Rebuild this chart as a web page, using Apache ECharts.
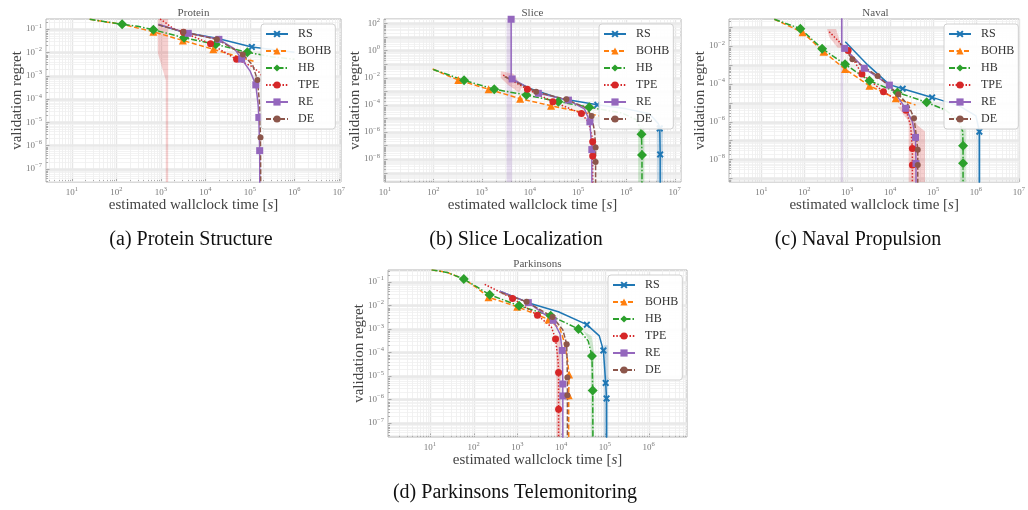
<!DOCTYPE html>
<html><head><meta charset="utf-8">
<script src="https://cdn.jsdelivr.net/npm/echarts@6/dist/echarts.min.js"></script>
<style>html,body{margin:0;padding:0;background:#fff}#c{width:1028px;height:510px}</style>
</head><body><div id="c"></div><script>
// ---------------- DATA ----------------
const METHODS = ['RS','BOHB','HB','TPE','RE','DE'];
const PANEL_TITLES = ['Protein','Slice','Naval','Parkinsons'];
const CAPTIONS = ['(a) Protein Structure','(b) Slice Localization','(c) Naval Propulsion','(d) Parkinsons Telemonitoring'];
const X_NAME = 'estimated wallclock time [{i|s}]';
const Y_NAME = 'validation regret';

const X_TICKS_A = [1e1,1e2,1e3,1e4,1e5,1e6,1e7];
const X_TICKS_B = [1e1,1e2,1e3,1e4,1e5,1e6,1e7];
const X_TICKS_C = [1e1,1e2,1e3,1e4,1e5,1e6,1e7];
const X_TICKS_D = [1e1,1e2,1e3,1e4,1e5,1e6];
const Y_TICKS_A = [1e-1,1e-2,1e-3,1e-4,1e-5,1e-6,1e-7];
const Y_TICKS_B = [1e2,1e0,1e-2,1e-4,1e-6,1e-8];
const Y_TICKS_C = [1e-2,1e-4,1e-6,1e-8];
const Y_TICKS_D = [1e-1,1e-2,1e-3,1e-4,1e-5,1e-6,1e-7];

// points: [wallclock time s, regret, marker flag]
const PROTEIN_RS   = [[900,0.15],[3000,0.075],[18000,0.04],[1.1e5,0.017,1],[1e6,0.01]];
const PROTEIN_BOHB = [[25,0.26],[60,0.2],[134,0.16],[300,0.11],[675,0.076,1],[3100,0.032,1],[15000,0.0135,1],[1.2e5,0.0041]];
const PROTEIN_HB   = [[25,0.26],[60,0.2],[134,0.16,1],[300,0.13],[675,0.093,1],[3300,0.042,1],[17000,0.022,1],[87000,0.01,1],[3e5,0.0065],[1e6,0.005]];
const PROTEIN_TPE  = [[950,0.27],[1300,0.18],[1800,0.11],[3200,0.072,1],[13000,0.023,1],[50000,0.005,1],[1.1e5,0.0025],[1.6e5,0.0014],[1.8e5,0.001]];
const PROTEIN_RE   = [[870,0.16],[4100,0.065,1],[20000,0.036,1],[45000,0.014],[65000,0.0051,1],[1e5,0.0016],[1.35e5,4e-4,1],[1.52e5,6e-5],[1.58e5,1.6e-5,1],[1.65e5,6e-7,1],[1.67e5,1e-9]];
const PROTEIN_DE   = [[870,0.15],[3200,0.075,1],[18000,0.036,1],[69000,0.0081,1],[1.15e5,0.0028],[1.47e5,6.5e-4,1],[1.66e5,5e-5],[1.72e5,2.2e-6,1],[1.76e5,1e-9]];

const SLICE_RS   = [[3600,0.01],[1e4,1.6e-3],[4e4,3e-4],[2.5e5,1e-4,1],[1e6,5e-5],[3e6,2.2e-5],[4.6e6,4e-6],[4.9e6,1.8e-6,1],[5e6,2.2e-8,1],[5e6,1e-11]];
const SLICE_BOHB = [[97,0.043],[330,0.0066,1],[1400,0.0014,1],[6300,2.8e-4,1],[27500,8.5e-5,1],[2.8e5,1.5e-5]];
const SLICE_HB   = [[100,0.04],[435,0.0063,1],[1830,0.0014,1],[8500,5.2e-4,1],[39000,1.7e-4,1],[1.7e5,6.5e-5,1],[8e5,2.5e-5],[1.6e6,8e-6],[1.95e6,1.8e-6],[2.05e6,6.6e-7,1],[2.1e6,2e-8,1],[2.1e6,1e-11]];
const SLICE_TPE  = [[2800,0.0155],[4000,0.007],[8900,1.4e-3,1],[30000,1.7e-4,1],[1.17e5,2.3e-5,1],[1.65e5,5e-6],[1.95e5,4e-7],[2e5,1.9e-7,1],[2e5,1.7e-8,1],[2e5,1e-11]];
const SLICE_RE   = [[4100,200,1],[4100,0.012],[4300,0.008,1],[15000,7e-4,1],[63000,2.2e-4,1],[1.35e5,5e-5],[1.75e5,5.6e-6,1],[1.92e5,5e-8,1],[1.93e5,1e-11]];
const SLICE_DE   = [[3000,0.012],[13500,9e-4,1],[57000,2.5e-4,1],[1.45e5,6e-5],[1.9e5,1.5e-5,1],[2.2e5,1e-6],[2.3e5,7e-8,1],[2.3e5,6e-9,1],[2.3e5,1e-11]];

const NAVAL_RS   = [[900,0.017],[3000,1e-3],[9600,9e-5],[19600,5.5e-5,1],[95000,1.9e-5,1],[4e5,7e-6],[1e6,2e-6],[1.2e6,2.9e-7,1],[1.2e6,1e-11]];
const NAVAL_BOHB = [[20,0.26],[91,0.053,1],[280,5e-3,1],[890,6e-4,1],[3300,7.9e-5,1],[13500,1.7e-5,1],[39000,7.6e-6]];
const NAVAL_HB   = [[20,0.26],[81,0.083,1],[260,7.2e-3,1],[890,1.07e-3,1],[3300,1.45e-4,1],[14800,3.5e-5,1],[71000,1.04e-5,1],[2e5,4e-6],[4e5,1e-6],[4.9e5,3e-7],[5e5,5.2e-8,1],[5e5,6.2e-9,1],[5e5,1e-11]];
const NAVAL_TPE  = [[380,0.057],[600,0.02],[1050,5.7e-3,1],[2200,3.3e-4,1],[7000,3.8e-5,1],[15000,1.3e-5],[23500,4e-6,1],[30000,6e-7],[33000,3.8e-8,1],[33000,5e-9,1],[33000,1e-11]];
const NAVAL_RE   = [[745,5],[745,0.012],[870,7.5e-3,1],[2500,6.6e-4,1],[9600,8.5e-5,1],[23000,5e-6,1],[33000,1e-6],[39000,1.45e-7,1],[40000,6e-9,1],[40000,1e-11]];
const NAVAL_DE   = [[680,0.014],[1320,2e-3,1],[5100,2.6e-4,1],[15500,2.8e-5,1],[27000,7e-6],[36000,1.5e-6,1],[42000,1e-7],[44000,3.2e-8,1],[44000,5e-9,1],[44000,1e-11]];

const PARK_RS   = [[400,0.04],[2000,0.012],[8700,5.3e-3],[39000,1.5e-3,1],[75000,5e-4],[93000,1.2e-4,1],[1.05e5,5e-6,1],[1.1e5,1.1e-6,1],[1.1e5,1e-9]];
const PARK_BOHB = [[11,0.32],[25,0.25],[60,0.13],[120,0.055],[220,0.022,1],[1000,8.7e-3,1],[5200,2.5e-3,1],[9500,1e-3],[11500,3.3e-4],[14000,5e-5],[15300,1.15e-5,1],[15000,1.5e-6,1],[15000,1e-9]];
const PARK_HB   = [[11,0.32],[25,0.25],[60,0.13,1],[120,0.06],[234,0.028,1],[1100,9.5e-3,1],[5800,3.6e-3,1],[25000,9.8e-4,1],[42000,3e-4],[51000,6.9e-5,1],[53000,2.4e-6,1],[54000,1e-9]];
const PARK_TPE  = [[180,0.078],[780,0.0196,1],[2900,3.8e-3,1],[6000,1.2e-3],[7500,3.7e-4,1],[8600,4e-5],[8800,1.4e-5,1],[8800,3.8e-7,1],[8800,1e-9]];
const PARK_RE   = [[400,0.04],[1790,0.013,1],[6600,2.3e-3,1],[9500,6e-4],[10700,1.2e-4,1],[11000,4.5e-6,1],[11000,1.4e-6,1],[11000,1e-9]];
const PARK_DE   = [[420,0.035],[1630,0.014,1],[6400,3.2e-3,1],[11000,9e-4],[13500,2.2e-4,1],[14000,8.5e-6,1],[14000,1.5e-6,1],[14000,1e-9]];

// shaded spread regions (polygon outlines in data units)
const PROTEIN_TPE_BAND = [[850,0.3],[850,0.009],[1280,6.5e-4],[1280,1e-9],[1450,1e-9],[1450,0.3]];
const SLICE_RE_BAND  = [[3300,1e3],[4300,1e3],[4300,1e-11],[3300,1e-11]];
const SLICE_TPE_BAND = [[2500,0.03],[4500,0.02],[7000,2e-3],[6000,8e-4],[3500,3e-3],[2500,0.01]];
const SLICE_HB_BAND  = [[1.75e6,3e-6],[2.35e6,3e-6],[2.35e6,1e-11],[1.75e6,1e-11]];
const SLICE_RS_BAND  = [[4.3e6,3e-6],[5.7e6,3e-6],[5.7e6,1e-11],[4.3e6,1e-11]];
const NAVAL_RE_BAND  = [[700,1],[800,1],[800,1e-11],[700,1e-11]];
const NAVAL_TPE_BAND = [[18000,6e-6],[30000,2e-6],[45000,6e-7],[65000,3e-7],[65000,1e-11],[27000,1e-11],[27000,1e-6],[15000,6e-6]];
const NAVAL_TPE_BAND2 = [[340,0.08],[550,0.08],[750,0.008],[600,0.008],[380,0.03]];
const NAVAL_HB_BAND  = [[4.3e5,6e-7],[5.8e5,6e-7],[5.8e5,1e-11],[4.3e5,1e-11]];
const NAVAL_RS_BAND  = [[1.1e6,6e-7],[1.3e6,6e-7],[1.3e6,1e-11],[1.1e6,1e-11]];
const PARK_HB_BAND   = [[30000,1e-3],[45000,3e-4],[48000,3e-5],[48000,1e-9],[57000,1e-9],[57000,1e-4],[50000,5e-4],[32000,8e-4]];
const PARK_TPE_BAND  = [[7800,5e-4],[7800,1e-9],[9800,1e-9],[9800,5e-4]];
const PARK_RS_BAND   = [[95000,2e-4],[95000,1e-9],[1.2e5,1e-9],[1.2e5,2e-4]];

// ---------------- LAYOUT / STYLE ----------------
const FONT = '"Liberation Serif","DejaVu Serif",serif';
const GRIDS = [
  {left:46, top:19, width:295, height:163},
  {left:384, top:19, width:297, height:163},
  {left:729, top:19, width:293, height:163},
  {left:388, top:270, width:299, height:167}
];
const XR = [[0.416,7.045],[0.98,7.13],[0.245,7.01],[0.045,6.88]];
const YR = [[-7.567,-0.571],[-9.69,2.32],[-9.2,-0.57],[-7.6,-0.5]];
const LEG = [{left:261,top:24},{left:599,top:24},{left:944,top:24},{left:608,top:275}];
const CAP_POS = [[191,240],[516,240],[858,240],[515,493]];

const X_SYM = 'path://M2,0 L5,3 L8,0 L10,2 L7,5 L10,8 L8,10 L5,7 L2,10 L0,8 L3,5 L0,2 Z';
const STY = {
  RS:   {color:'#1f77b4', type:'solid', symbol:X_SYM, size:7},
  BOHB: {color:'#ff7f0e', type:[5,2.5], symbol:'triangle', size:8},
  HB:   {color:'#2ca02c', type:[6,2,1.5,2], symbol:'diamond', size:10},
  TPE:  {color:'#d62728', type:[1.5,1.8], symbol:'circle', size:7},
  RE:   {color:'#9467bd', type:'solid', symbol:'rect', size:7},
  DE:   {color:'#8c564b', type:[5,2], symbol:'circle', size:6}
};

const CURVES = [
  {RS:PROTEIN_RS,BOHB:PROTEIN_BOHB,HB:PROTEIN_HB,TPE:PROTEIN_TPE,RE:PROTEIN_RE,DE:PROTEIN_DE},
  {RS:SLICE_RS,BOHB:SLICE_BOHB,HB:SLICE_HB,TPE:SLICE_TPE,RE:SLICE_RE,DE:SLICE_DE},
  {RS:NAVAL_RS,BOHB:NAVAL_BOHB,HB:NAVAL_HB,TPE:NAVAL_TPE,RE:NAVAL_RE,DE:NAVAL_DE},
  {RS:PARK_RS,BOHB:PARK_BOHB,HB:PARK_HB,TPE:PARK_TPE,RE:PARK_RE,DE:PARK_DE}
];
const BANDS = [
  [['TPE',PROTEIN_TPE_BAND]],
  [['RE',SLICE_RE_BAND],['TPE',SLICE_TPE_BAND],['HB',SLICE_HB_BAND],['RS',SLICE_RS_BAND]],
  [['RE',NAVAL_RE_BAND],['TPE',NAVAL_TPE_BAND],['TPE',NAVAL_TPE_BAND2],['HB',NAVAL_HB_BAND],['RS',NAVAL_RS_BAND]],
  [['HB',PARK_HB_BAND],['TPE',PARK_TPE_BAND],['RS',PARK_RS_BAND]]
];
const X_TICKS = [X_TICKS_A,X_TICKS_B,X_TICKS_C,X_TICKS_D];
const Y_TICKS = [Y_TICKS_A,Y_TICKS_B,Y_TICKS_C,Y_TICKS_D];

function hexA(hex, a){const n=parseInt(hex.slice(1),16);return `rgba(${n>>16},${(n>>8)&255},${n&255},${a})`;}
function powLabel(v){const e=Math.round(Math.log10(v));return '{b|10}{e|'+(e<0?'\u2212':'')+Math.abs(e)+'}';}
const LABEL_RICH = {
  b:{fontSize:9, color:'#7a7a7a', fontFamily:FONT},
  e:{fontSize:6.5, color:'#7a7a7a', fontFamily:FONT, padding:[0,0,6,0]}
};

const series = [];
const xAxis = [], yAxis = [];
GRIDS.forEach((g, gi) => {
  const xr = XR[gi], yr = YR[gi];
  xAxis.push({
    type:'log', logBase:10, gridIndex:gi, min:Math.pow(10,xr[0]), max:Math.pow(10,xr[1]),
    axisLine:{show:false}, axisTick:{show:false}, splitLine:{show:false},
    axisLabel:{customValues:X_TICKS[gi], formatter:powLabel, rich:LABEL_RICH, margin:4},
    name:X_NAME, nameLocation:'middle', nameGap:11,
    nameTextStyle:{fontFamily:FONT, fontSize:15, color:'#444', rich:{i:{fontFamily:FONT, fontSize:15, color:'#444', fontStyle:'italic'}}}
  });
  yAxis.push({
    type:'log', logBase:10, gridIndex:gi, min:Math.pow(10,yr[0]), max:Math.pow(10,yr[1]),
    axisLine:{show:false}, axisTick:{show:false}, splitLine:{show:false},
    axisLabel:{customValues:Y_TICKS[gi], formatter:powLabel, rich:LABEL_RICH, margin:4},
    name:Y_NAME, nameLocation:'middle', nameGap:21, nameMoveOverlap:false,
    nameTextStyle:{fontFamily:FONT, fontSize:15, color:'#444'}
  });
  // grid lines + ticks
  series.push({
    type:'custom', coordinateSystem:'cartesian2d', xAxisIndex:gi, yAxisIndex:gi, silent:true, z:0,
    data:[[Math.pow(10,(xr[0]+xr[1])/2), Math.pow(10,(yr[0]+yr[1])/2)]],
    renderItem(params, api){
      const cs = params.coordSys;
      const x0=cs.x, x1=cs.x+cs.width, y0=cs.y, y1=cs.y+cs.height;
      const ym = Math.pow(10,(yr[0]+yr[1])/2), xm = Math.pow(10,(xr[0]+xr[1])/2);
      const ch = [];
      for (let d=Math.floor(xr[0]); d<=Math.ceil(xr[1]); d++) for (let k=1;k<=9;k++){
        const v=k*Math.pow(10,d), lv=Math.log10(v);
        if (lv<=xr[0]+1e-6||lv>=xr[1]-1e-6) continue;
        const px=Math.round(api.coord([v,ym])[0])+0.5;
        ch.push({type:'line',shape:{x1:px,y1:y0,x2:px,y2:y1},style:{stroke:k===1?'#e6e6e6':'#eeeeee',lineWidth:k===1?1.4:0.8}});
        ch.push({type:'line',shape:{x1:px,y1:y1,x2:px,y2:y1-(k===1?3.5:2)},style:{stroke:'#999',lineWidth:0.8}});
      }
      for (let d=Math.floor(yr[0]); d<=Math.ceil(yr[1]); d++) for (let k=1;k<=9;k++){
        const v=k*Math.pow(10,d), lv=Math.log10(v);
        if (lv<=yr[0]+1e-6||lv>=yr[1]-1e-6) continue;
        const py=Math.round(api.coord([xm,v])[1])+0.5;
        ch.push({type:'line',shape:{x1:x0,y1:py,x2:x1,y2:py},style:{stroke:k===1?'#e9e9e9':'#f0f0f0',lineWidth:k===1?2.4:0.8}});
        ch.push({type:'line',shape:{x1:x0,y1:py,x2:x0+(k===1?3.5:2),y2:py},style:{stroke:'#999',lineWidth:0.8}});
      }
      return {type:'group',children:ch};
    }
  });
  // shaded bands
  BANDS[gi].forEach(([m, poly]) => {
    series.push({
      type:'custom', coordinateSystem:'cartesian2d', xAxisIndex:gi, yAxisIndex:gi, silent:true, z:1, clip:true,
      data:[[Math.pow(10,(xr[0]+xr[1])/2), Math.pow(10,(yr[0]+yr[1])/2)]],
      renderItem(params, api){
        const cs = params.coordSys;
        const pts = poly.map(p => {const c=api.coord([p[0],p[1]]);
          return [Math.min(Math.max(c[0],cs.x),cs.x+cs.width), Math.min(Math.max(c[1],cs.y),cs.y+cs.height)];});
        return {type:'polygon',shape:{points:pts},style:{fill:hexA(STY[m].color,0.22)}};
      }
    });
  });
  // curves
  METHODS.forEach(m => {
    const s = STY[m];
    series.push({
      type:'line', name:m, xAxisIndex:gi, yAxisIndex:gi, z:3, clip:true,
      symbol:s.symbol, symbolSize:s.size, showSymbol:true, showAllSymbol:true,
      data: CURVES[gi][m].map(p => p[2] ? {value:[p[0],p[1]]} : {value:[p[0],p[1]], symbol:'none'}),
      lineStyle:{color:s.color, width:1.5, type:s.type},
      itemStyle:{color:s.color},
      emphasis:{disabled:true}
    });
  });
});

const graphic = [];
GRIDS.forEach((g, gi) => {
  graphic.push({type:'text', x:g.left+g.width/2, y:g.top-6, silent:true,
    style:{text:PANEL_TITLES[gi], font:'11px '+FONT, fill:'#555', align:'center', verticalAlign:'middle'}});
  graphic.push({type:'text', x:CAP_POS[gi][0], y:CAP_POS[gi][1], silent:true,
    style:{text:CAPTIONS[gi], font:'20px '+FONT, fill:'#111', align:'center', verticalAlign:'middle'}});
});

const option = {
  animation:false,
  backgroundColor:'#fff',
  grid: GRIDS.map(g => ({...g, show:true, borderColor:'#b5b5b5', borderWidth:1, backgroundColor:'#fff', containLabel:false})),
  xAxis, yAxis, series, graphic,
  legend: LEG.map(l => ({
    left:l.left, top:l.top, orient:'vertical', data:METHODS, selectedMode:false,
    backgroundColor:'rgba(255,255,255,0.9)', borderColor:'#d0d0d0', borderWidth:1, borderRadius:3,
    padding:[4,4,4,4], itemWidth:22, itemHeight:9, itemGap:5,
    textStyle:{fontFamily:FONT, fontSize:12, color:'#333', lineHeight:12, padding:[0,0,0,5]}
  }))
};
const chart = echarts.init(document.getElementById('c'), null, {renderer:'canvas'});
chart.setOption(option);
</script></body></html>
